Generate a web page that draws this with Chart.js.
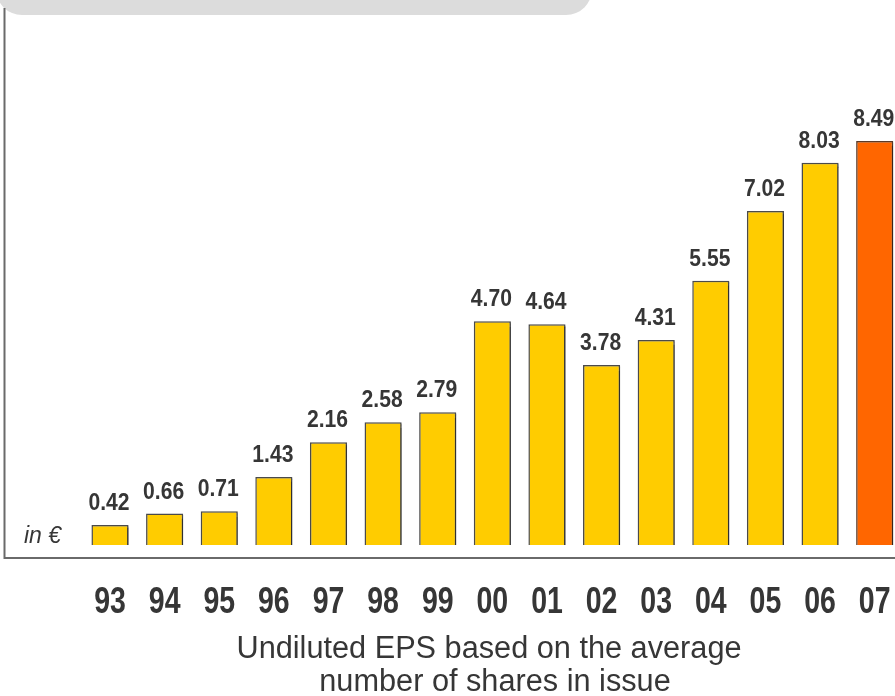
<!DOCTYPE html>
<html>
<head>
<meta charset="utf-8">
<title>EPS</title>
<script src="https://cdn.jsdelivr.net/npm/chart.js@4.4.1/dist/chart.umd.min.js"></script>
<style>
  html, body { margin: 0; padding: 0; background: #fff; overflow: hidden; }
  #wrap { position: relative; width: 902px; height: 696px; }
</style>
</head>
<body>
<div id="wrap"><canvas id="eps"></canvas></div>
<script>
const years = ["93", "94", "95", "96", "97", "98", "99", "00", "01", "02", "03", "04", "05", "06", "07"];
const eps = [0.42, 0.66, 0.71, 1.43, 2.16, 2.58, 2.79, 4.70, 4.64, 3.78, 4.31, 5.55, 7.02, 8.03, 8.49];
const currentYear = "07";
const unitLabel = "in €";
const footnote = ["Undiluted EPS based on the average", "number of shares in issue"];

const YELLOW = "#ffcc00";
const ORANGE = "#ff6600";
const INK = "#363636";

// draws text squeezed horizontally, like a condensed face
function squeezed(ctx, text, x, y, sx) {
  ctx.save();
  ctx.translate(x, y);
  ctx.scale(sx, 1);
  ctx.fillText(text, 0, 0);
  ctx.restore();
}

const frame = {
  id: "frame",
  beforeDraw(chart) {
    const ctx = chart.ctx;
    ctx.save();
    // grey tab across the top
    ctx.fillStyle = "#dcdcdc";
    ctx.beginPath();
    ctx.roundRect(-4, -40, 596, 55, 26);
    ctx.fill();
    // left and bottom rules
    ctx.strokeStyle = "#6a6a6a";
    ctx.lineWidth = 2;
    ctx.beginPath();
    ctx.moveTo(4.5, 8);
    ctx.lineTo(4.5, 558);
    ctx.lineTo(902, 558);
    ctx.stroke();
    ctx.restore();
  },
  beforeDatasetsDraw(chart) {
    const ctx = chart.ctx;
    ctx.save();
    ctx.shadowColor = "rgba(0,0,0,0.35)";
    ctx.shadowOffsetX = 1.5;
    ctx.shadowOffsetY = 1.5;
    ctx.shadowBlur = 1;
  },
  afterDatasetsDraw(chart) {
    const ctx = chart.ctx;
    ctx.restore();
    const x = chart.scales.x;
    const meta = chart.getDatasetMeta(0);
    ctx.save();
    ctx.fillStyle = INK;
    ctx.textAlign = "center";
    ctx.textBaseline = "alphabetic";

    // values above bars
    ctx.font = "bold 24px 'Liberation Sans', Arial, sans-serif";
    meta.data.forEach((bar, i) => {
      squeezed(ctx, eps[i].toFixed(2), bar.x - 1, bar.y - 15, 0.88);
    });

    // year labels under the frame
    ctx.font = "bold 37px 'Liberation Sans', Arial, sans-serif";
    years.forEach((yr, i) => {
      squeezed(ctx, yr, x.getPixelForValue(i), 613, 0.77);
    });

    // unit
    ctx.textAlign = "left";
    ctx.font = "italic 23px 'Liberation Sans', Arial, sans-serif";
    ctx.fillText(unitLabel, 24, 543);

    // footnote
    ctx.textAlign = "center";
    ctx.font = "31px 'Liberation Sans', Arial, sans-serif";
    squeezed(ctx, footnote[0], 489, 658, 0.99);
    squeezed(ctx, footnote[1], 495, 691, 0.99);
    ctx.restore();
  }
};

new Chart(document.getElementById("eps"), {
  type: "bar",
  data: {
    labels: years,
    datasets: [{
      data: eps,
      backgroundColor: years.map(y => y === currentYear ? ORANGE : YELLOW),
      borderColor: years.map(y => y === currentYear ? "#5a3a28" : "#4a4a4a"),
      borderWidth: 1.5,
      barPercentage: 0.68,
      categoryPercentage: 1
    }]
  },
  options: {
    responsive: true,
    maintainAspectRatio: false,
    animation: false,
    layout: { padding: { left: 82.7, right: 0, top: 21.5, bottom: 151 } },
    plugins: { legend: { display: false }, tooltip: { enabled: false } },
    scales: {
      x: { display: false },
      y: { display: false, min: 0, max: 11 }
    }
  },
  plugins: [frame]
});
</script>
</body>
</html>
